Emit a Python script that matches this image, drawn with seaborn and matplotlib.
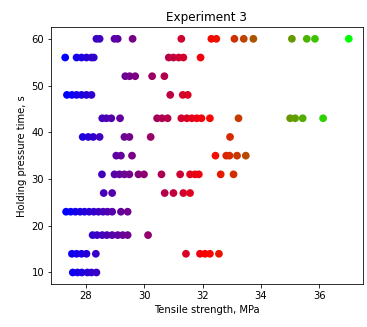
import matplotlib
matplotlib.use("Agg")
import matplotlib.pyplot as plt
import numpy as np
import pandas as pd
import seaborn as sns

# Tensile strength (MPa) measured at each holding pressure time (s)
t10 = [27.55, 27.71, 27.86, 28.05, 28.19, 28.36]
t14 = [27.52, 27.68, 27.85, 28.02, 28.34, 31.43, 31.91, 32.08, 32.25, 32.56]
t18 = [28.23, 28.38, 28.56, 28.72, 28.90, 29.09, 29.26, 29.43, 30.13]
t23 = [27.32, 27.48, 27.64, 27.80, 27.95, 28.11, 28.27, 28.43, 28.59,
       28.74, 28.90, 29.20, 29.43]
t27 = [28.61, 28.90, 30.70, 31.00, 31.34, 31.57]
t31 = [28.55, 28.98, 29.15, 29.32, 29.49, 29.80, 29.99, 30.59, 31.23,
       31.57, 31.74, 31.87, 32.62, 33.06]
t35 = [29.04, 29.20, 29.58, 32.44, 32.81, 32.92, 33.18, 33.48]
t39 = [27.89, 28.08, 28.25, 28.47, 29.32, 29.49, 30.22, 32.94]
t43 = [28.56, 28.70, 28.87, 29.17, 30.44, 30.61, 30.80, 31.27, 31.46,
       31.63, 31.80, 31.96, 32.25, 33.23, 35.00, 35.17, 35.43, 36.13]
t48 = [27.35, 27.52, 27.68, 27.85, 28.02, 28.19, 30.89, 31.32, 31.49]
t52 = [29.35, 29.50, 29.69, 30.27, 30.69]
t56 = [27.29, 27.68, 27.85, 28.02, 28.19, 28.27, 30.84, 31.00, 31.18,
       31.34, 31.93]
t60 = [28.36, 28.47, 28.98, 29.09, 29.60, 31.27, 32.30, 32.47, 33.09,
       33.41, 33.74, 35.06, 35.57, 35.85, 37.01]

groups = {10: t10, 14: t14, 18: t18, 23: t23, 27: t27, 31: t31, 35: t35,
          39: t39, 43: t43, 48: t48, 52: t52, 56: t56, 60: t60}

df = pd.DataFrame(
    [(s, t) for t, vals in groups.items() for s in vals],
    columns=["strength", "time"],
)

fig = plt.figure(figsize=(367 / 72, 327 / 72), dpi=72)
ax = fig.add_axes([0.139, 0.131, 0.850, 0.786])

sns.scatterplot(
    data=df, x="strength", y="time", hue="strength", palette="brg",
    hue_norm=(df["strength"].min(), df["strength"].max()),
    s=60, linewidth=0, legend=False, ax=ax,
)

ax.set_title("Experiment 3", fontsize=12)
ax.set_xlabel("Tensile strength, MPa", fontsize=10)
ax.set_ylabel("Holding pressure time, s", fontsize=10)
ax.set_xticks([28, 30, 32, 34, 36])
ax.set_yticks([10, 20, 30, 40, 50, 60])
ax.tick_params(labelsize=10)

fig.savefig("out.png", dpi=72)
